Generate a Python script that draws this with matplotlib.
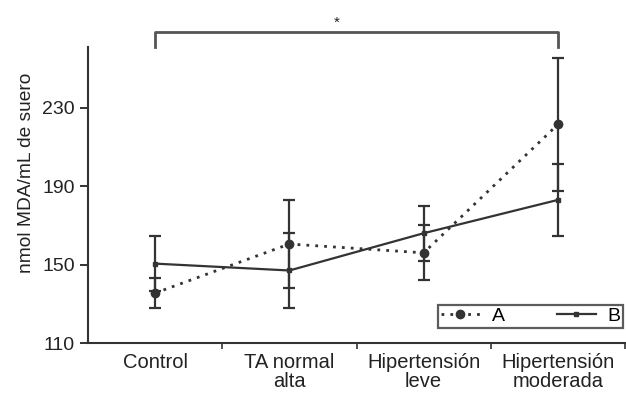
import matplotlib
matplotlib.use("Agg")
import matplotlib.pyplot as plt
import numpy as np

plt.rcParams['font.family'] = ['Liberation Sans', 'DejaVu Sans']

categories = ["Control", "TA normal\nalta", "Hipertensión\nleve", "Hipertensión\nmoderada"]
a_values = [135.5, 160.5, 156, 221.5]
a_errors = [7.5, 22.5, 14, 34]
b_values = [150.5, 147, 166, 183]
b_errors = [14, 19, 14, 18.5]
y_ticks = [110, 150, 190, 230]

col = '#333333'
tcol = '#222222'
fig = plt.figure(figsize=(6.26, 3.95), dpi=100)
ax = fig.add_axes([0.1406, 0.1316, 0.8578, 0.7494])
x = np.arange(len(categories))

eb_a = ax.errorbar(x, a_values, yerr=a_errors, color=col, linestyle=(0, (1, 2.2)), linewidth=2,
                   marker='o', markersize=6, capsize=4, elinewidth=1.6, capthick=1.6)
eb_b = ax.errorbar(x, b_values, yerr=b_errors, color=col, linestyle='-', linewidth=1.6,
                   marker='s', markersize=3, capsize=4, elinewidth=1.6, capthick=1.6)

ax.set_xlim(-0.5, 3.5)
ax.set_ylim(110, 261)
ax.set_yticks(y_ticks)
ax.set_xticks(x)
ax.set_xticklabels(categories, fontsize=14.5, color=tcol, linespacing=1.05)
ax.tick_params(axis='x', which='major', length=0, pad=7)
ax.set_xticks([0.5, 1.5, 2.5, 3.5], minor=True)
ax.tick_params(axis='x', which='minor', length=4, width=1.2, color=col)
ax.tick_params(axis='y', labelsize=14, length=6, width=1.4, color=col, labelcolor=tcol, pad=3.5)
ax.set_ylabel("nmol MDA/mL de suero", fontsize=13.8, color=tcol)
ax.yaxis.set_label_coords(-0.098, 0.574)
for s in ['top', 'right']:
    ax.spines[s].set_visible(False)
for s in ['left', 'bottom']:
    ax.spines[s].set_linewidth(1.5)
    ax.spines[s].set_color(col)

# significance bracket
ax.plot([0, 0, 3, 3], [261, 268.5, 268.5, 261], color='#555555', linewidth=2, clip_on=False)
ax.text(1.35, 270, '*', ha='center', va='bottom', fontsize=11, color=tcol)

leg = ax.legend(handles=[eb_a[0], eb_b[0]], labels=['A', 'B'], loc='lower left', ncol=2,
                fontsize=14, frameon=True, fancybox=False, edgecolor=col,
                handlelength=2.0, columnspacing=1.0, borderpad=0.15, handletextpad=0.6,
                bbox_to_anchor=(0.652, 0.05, 0.345, 0.085), mode='expand', borderaxespad=0)
leg.get_frame().set_linewidth(1.6)

fig.savefig("out.png", dpi=100)
